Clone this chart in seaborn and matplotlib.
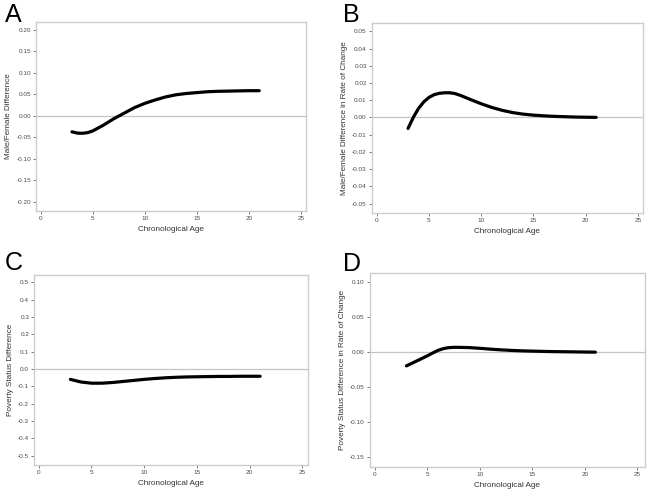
import matplotlib
matplotlib.use("Agg")
import matplotlib.pyplot as plt
import seaborn as sns
import pandas as pd
from matplotlib.ticker import FormatStrFormatter

sns.set_style("white")
plt.rcParams['font.family'] = ['Liberation Sans', 'DejaVu Sans']

# ---- data ----
age_a = [3, 3.5, 4, 4.5, 5, 6, 7, 8, 9, 10, 11, 12, 13, 14, 15, 16, 17, 18, 19, 20, 21]
diff_a = [-0.037, -0.040, -0.0405, -0.039, -0.035, -0.022, -0.007, 0.006, 0.019, 0.029,
          0.037, 0.044, 0.049, 0.052, 0.054, 0.056, 0.057, 0.0575, 0.058, 0.0585, 0.0585]

age_b = [3, 3.5, 4, 4.5, 5, 5.5, 6, 6.5, 7, 7.5, 8, 9, 10, 11, 12, 13, 14, 15, 16, 17, 18, 19, 20, 21]
diff_b = [-0.0064, 0.0000, 0.0052, 0.0090, 0.0116, 0.0132, 0.0140, 0.0143, 0.0143, 0.0138,
          0.0128, 0.0103, 0.0079, 0.0058, 0.0041, 0.0028, 0.0019, 0.0013, 0.0009, 0.0006,
          0.0004, 0.0002, 0.0001, 0.0000]

age_c = [3, 4, 5, 6, 7, 8, 9, 10, 11, 12, 13, 14, 15, 16, 17, 18, 19, 20, 21]
diff_c = [-0.060, -0.075, -0.082, -0.082, -0.078, -0.072, -0.066, -0.060, -0.055, -0.051,
          -0.048, -0.046, -0.045, -0.044, -0.043, -0.043, -0.042, -0.042, -0.042]

age_d = [3, 3.5, 4, 4.5, 5, 5.5, 6, 6.5, 7, 7.5, 8, 9, 10, 11, 12, 13, 14, 15, 16, 17, 18, 19, 20, 21]
diff_d = [-0.0196, -0.0160, -0.0124, -0.0088, -0.0052, -0.0012, 0.0025, 0.0050, 0.0064, 0.0069,
          0.0069, 0.0065, 0.0055, 0.0043, 0.0033, 0.0025, 0.0019, 0.0015, 0.0011, 0.0008,
          0.0006, 0.0004, 0.0002, 0.0000]

x_ticks = [0, 5, 10, 15, 20, 25]
y_ticks_a = [-0.20, -0.15, -0.10, -0.05, 0.00, 0.05, 0.10, 0.15, 0.20]
y_ticks_b = [-0.05, -0.04, -0.03, -0.02, -0.01, 0.00, 0.01, 0.02, 0.03, 0.04, 0.05]
y_ticks_c = [-0.5, -0.4, -0.3, -0.2, -0.1, 0.0, 0.1, 0.2, 0.3, 0.4, 0.5]
y_ticks_d = [-0.15, -0.10, -0.05, 0.00, 0.05, 0.10]

panels = [
    dict(letter="A", x=age_a, y=diff_a, ylabel="Male/Female Difference",
         pos=[0.0556, 0.5746, 0.4167, 0.381], xlim=(-0.45, 25.5), ylim=(-0.221, 0.218),
         yticks=y_ticks_a, fmt="%.2f", letter_xy=(0.008, 0.956)),
    dict(letter="B", x=age_b, y=diff_b, ylabel="Male/Female Difference in Rate of Change",
         pos=[0.5736, 0.5706, 0.4187, 0.3837], xlim=(-0.48, 25.48), ylim=(-0.0555, 0.055),
         yticks=y_ticks_b, fmt="%.2f", letter_xy=(0.529, 0.956)),
    dict(letter="C", x=age_c, y=diff_c, ylabel="Poverty Status Difference",
         pos=[0.0525, 0.0625, 0.4228, 0.3837], xlim=(-0.45, 25.54), ylim=(-0.554, 0.544),
         yticks=y_ticks_c, fmt="%.1f", letter_xy=(0.008, 0.455)),
    dict(letter="D", x=age_d, y=diff_d, ylabel="Poverty Status Difference in Rate of Change",
         pos=[0.5705, 0.0585, 0.4244, 0.391], xlim=(-0.5, 25.7), ylim=(-0.164, 0.113),
         yticks=y_ticks_d, fmt="%.2f", letter_xy=(0.530, 0.453)),
]

fig = plt.figure(figsize=(6.48, 4.96), dpi=100)
spine_col = "#cccccc"
for p in panels:
    ax = fig.add_axes(p["pos"])
    df = pd.DataFrame({"age": p["x"], "val": p["y"]})
    ax.axhline(0, color="#c4c4c4", lw=0.9, zorder=1)
    sns.lineplot(data=df, x="age", y="val", ax=ax, color="black", lw=2.3, zorder=3)
    ax.set_xlim(*p["xlim"])
    ax.set_ylim(*p["ylim"])
    ax.set_xticks(x_ticks)
    ax.set_yticks(p["yticks"])
    ax.yaxis.set_major_formatter(FormatStrFormatter(p["fmt"]))
    ax.tick_params(axis="both", labelsize=4.6, colors="#4a4a4a", length=2, width=0.5,
                   pad=1.5, direction="out", left=True, bottom=True)
    for s in ax.spines.values():
        s.set_color(spine_col)
        s.set_linewidth(1.0)
    ax.set_xlabel("Chronological Age", fontsize=5.9, color="#333333", labelpad=4)
    ax.set_ylabel(p["ylabel"], fontsize=5.9, color="#333333", labelpad=3)
    fig.text(p["letter_xy"][0], p["letter_xy"][1], p["letter"], fontsize=18,
             color="black", va="baseline", ha="left")

fig.savefig("out.png", dpi=100, facecolor="white")
